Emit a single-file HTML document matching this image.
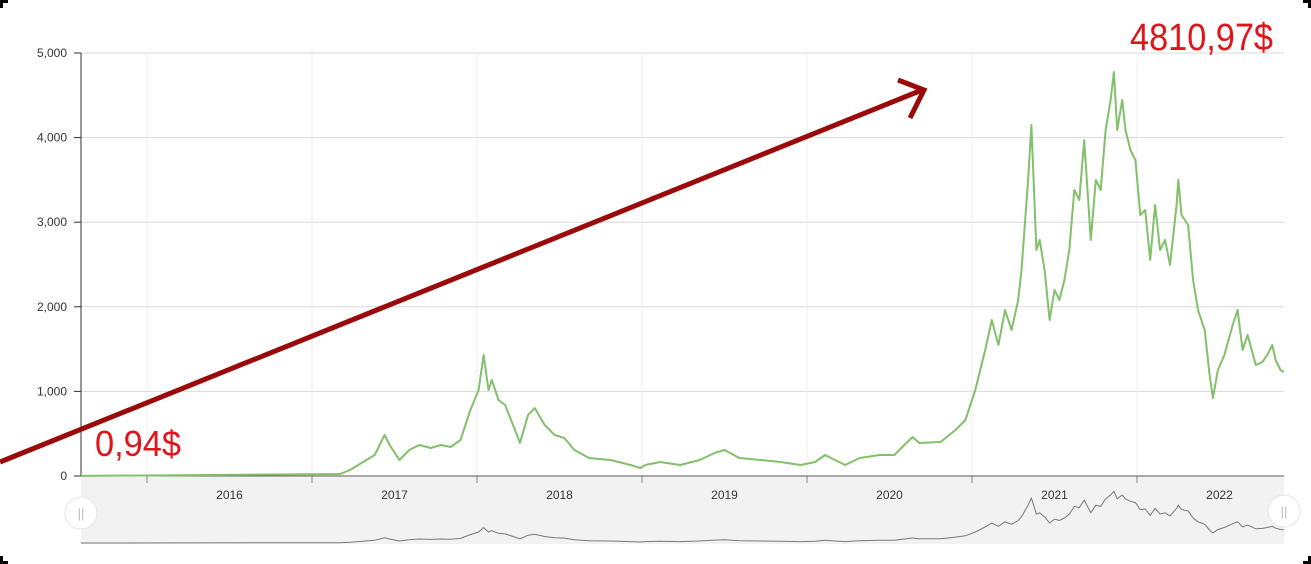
<!DOCTYPE html>
<html><head><meta charset="utf-8"><style>
body{margin:0;background:#fff;width:1311px;height:564px;overflow:hidden;font-family:"Liberation Sans",sans-serif}
svg{display:block}
</style></head><body>
<svg id="chart" width="1311" height="564" viewBox="0 0 1311 564" xmlns="http://www.w3.org/2000/svg">
<g id="corners" fill="#000">
<path d="M0 0h8v3h-5v5h-3z"/><path d="M1311 0h-8v3h5v5h3z"/><path d="M0 564h8v-3h-5v-5h-3z"/><path d="M1311 564h-8v-3h5v-5h3z"/>
</g>
<g id="grid"></g>
<rect x="81" y="477" width="1203" height="67" fill="#f2f2f2"/>
<g id="axes"></g>
<path id="nav-line" fill="none" stroke="#777" stroke-width="1"/>
<path id="main-line" fill="none" stroke="#82c06b" stroke-width="2" stroke-linejoin="round"/>
<g><circle cx="81" cy="513" r="16" fill="#fff" stroke="#e4e4e4"/><text x="81" y="518" font-size="13" fill="#bbb" text-anchor="middle">||</text></g>
<g><circle cx="1284" cy="511" r="16" fill="#fff" stroke="#e4e4e4"/><text x="1284" y="516" font-size="13" fill="#bbb" text-anchor="middle">||</text></g>
<line x1="0" y1="462" x2="922" y2="90" stroke="#9b0a0a" stroke-width="5"/>
<polyline points="898,80 924,90 910,118" fill="none" stroke="#9b0a0a" stroke-width="5" stroke-linejoin="miter"/>
<text x="95" y="456" font-size="36" fill="#e0141b" textLength="86" lengthAdjust="spacingAndGlyphs">0,94$</text>
<text x="1130" y="50" font-size="38" fill="#e0141b" textLength="143" lengthAdjust="spacingAndGlyphs">4810,97$</text>
</svg>
<script>
const yTicks=[0,1000,2000,3000,4000,5000];
const yTickLabels=["0","1,000","2,000","3,000","4,000","5,000"];
const years=[2016,2017,2018,2019,2020,2021,2022];
const dates=[2015.60,2017.17,2017.23,2017.38,2017.44,2017.47,2017.53,2017.59,2017.65,2017.72,2017.78,2017.84,2017.90,2017.96,2018.01,2018.04,2018.07,2018.09,2018.13,2018.17,2018.23,2018.26,2018.31,2018.35,2018.41,2018.47,2018.53,2018.59,2018.68,2018.81,2018.93,2018.99,2019.02,2019.11,2019.23,2019.35,2019.44,2019.50,2019.59,2019.72,2019.84,2019.96,2020.05,2020.11,2020.17,2020.23,2020.32,2020.44,2020.53,2020.59,2020.64,2020.68,2020.81,2020.90,2020.96,2021.02,2021.08,2021.12,2021.16,2021.20,2021.24,2021.28,2021.30,2021.34,2021.36,2021.39,2021.41,2021.44,2021.47,2021.50,2021.53,2021.56,2021.59,2021.62,2021.65,2021.68,2021.72,2021.75,2021.78,2021.81,2021.84,2021.86,2021.88,2021.91,2021.93,2021.96,2021.99,2022.02,2022.05,2022.08,2022.11,2022.14,2022.17,2022.20,2022.24,2022.25,2022.27,2022.31,2022.34,2022.37,2022.41,2022.44,2022.46,2022.49,2022.53,2022.58,2022.61,2022.64,2022.67,2022.72,2022.76,2022.79,2022.82,2022.84,2022.87,2022.89];
const prices=[1,24,71,248,485,366,189,307,366,331,366,343,426,780,1017,1430,1017,1135,898,839,544,390,721,804,603,485,449,307,213,189,130,95,130,165,130,189,272,307,213,189,165,130,165,248,189,130,213,248,248,366,461,390,402,544,662,1017,1489,1844,1548,1962,1726,2080,2435,3499,4149,2671,2790,2435,1844,2199,2080,2317,2671,3381,3262,3972,2790,3499,3381,4090,4444,4775,4090,4444,4090,3853,3735,3085,3144,2553,3203,2671,2790,2494,3203,3499,3085,2967,2317,1962,1726,1194,922,1253,1430,1785,1962,1489,1667,1312,1348,1430,1548,1371,1253,1229];
const X0=81,X1=1284,Y0=476,Y1=53,yearX=147,yearW=165;
const xs=d=>yearX+(d-2016)*yearW;
const ys=v=>Y0-(v-yTicks[0])/(yTicks[yTicks.length-1]-yTicks[0])*(Y0-Y1);
const navY=v=>543-v/4810*52;
const NS="http://www.w3.org/2000/svg";
function mk(tag,attrs,parent,txt){const e=document.createElementNS(NS,tag);for(const k in attrs)e.setAttribute(k,attrs[k]);if(txt!==undefined)e.textContent=txt;parent.appendChild(e);return e;}
const grid=document.getElementById('grid'),axes=document.getElementById('axes');
yTicks.forEach((t,i)=>{const y=ys(t);
 const g=mk('line',{x1:X0,x2:X1,y1:y,y2:y,stroke:'#d9d9d9','stroke-width':1},grid);
 
 
 const tk=mk('line',{x1:X0-7,x2:X0,y1:y,y2:y,stroke:'#333'},axes);
 
 
 const l=mk('text',{x:X0-14,y:y+4,'font-size':12,fill:'#333','text-anchor':'end'},axes,yTickLabels[i]);
 
 
});
years.forEach(yr=>{const x=xs(yr);
 const g=mk('line',{x1:x,x2:x,y1:Y1,y2:Y0,stroke:'#ececec'},grid);
 
 
 const tk=mk('line',{x1:x,x2:x,y1:Y0,y2:Y0+7,stroke:'#888'},axes);
 
 
 const l=mk('text',{x:x+yearW/2,y:499,'font-size':12,fill:'#333','text-anchor':'middle'},axes,String(yr));
 
 
});
const ya=mk('line',{x1:X0,x2:X0,y1:Y1,y2:Y0,stroke:'#333'},axes);


const xa=mk('line',{x1:X0,x2:X1,y1:Y0,y2:Y0,stroke:'#555'},axes);


let d='',nd='';
dates.forEach((t,i)=>{const c=i?'L':'M';d+=c+xs(t).toFixed(1)+' '+ys(prices[i]).toFixed(1);nd+=c+xs(t).toFixed(1)+' '+navY(prices[i]).toFixed(1);});
document.getElementById('main-line').setAttribute('d',d);
document.getElementById('nav-line').setAttribute('d',nd);
</script>
</body></html>
